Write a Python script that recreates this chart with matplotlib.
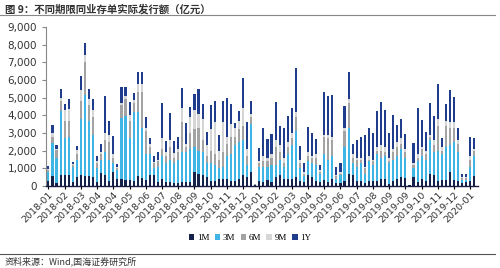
import numpy as np
import matplotlib
matplotlib.use("Agg")
from matplotlib import pyplot as plt
from matplotlib.ticker import FuncFormatter

plt.rcParams['font.family'] = ['Noto Sans CJK SC', 'DejaVu Sans']

# 发行额（亿元），每周一根柱
m1 = [300, 550, 150, 650, 600, 600, 200, 500, 650, 550, 550, 500, 200, 750, 650, 300, 800, 400,
      400, 350, 350, 300, 550, 450, 350, 600, 600, 200, 400, 200, 250, 150, 150, 200, 200, 200,
      800, 700, 600, 500, 300, 300, 400, 400, 400, 300, 300, 400, 600, 500, 800, 60, 300, 250,
      350, 250, 500, 600, 400, 400, 400, 500, 300, 250, 600, 500, 300, 200, 350, 250, 400, 150,
      150, 300, 700, 600, 300, 300, 150, 300, 300, 300, 400, 400, 100, 300, 400, 500, 450, 40,
      500, 250, 400, 300, 700, 650, 300, 350, 350, 800, 350, 300, 150, 200, 300, 550]
m3 = [500, 1870, 1450, 3600, 2100, 2150, 850, 950, 3150, 4600, 3150, 2400, 800, 700, 1250, 1200,
      500, 500, 3450, 3600, 2350, 3900, 3650, 2850, 1450, 1200, 400, 900, 1300, 1100, 1250, 1150,
      1350, 1700, 1750, 1900, 1400, 1300, 1300, 800, 1000, 900, 600, 700, 1300, 1500, 2000, 2100,
      2000, 700, 2700, 20, 800, 850, 750, 950, 700, 900, 700, 1400, 1900, 2600, 700, 300, 800,
      800, 900, 500, 1450, 1250, 1300, 250, 450, 1900, 2600, 700, 800, 1000, 550, 1100, 900, 1500,
      1200, 1300, 1200, 1200, 1300, 1600, 1150, 10, 500, 1150, 1300, 1200, 1900, 1250, 1700, 1450,
      1850, 1500, 2150, 1600, 200, 150, 800, 1150]
m6 = [100, 380, 450, 550, 1000, 950, 150, 350, 1000, 1850, 900, 1000, 300, 350, 700, 1000, 300,
      100, 750, 950, 1000, 500, 1100, 2000, 1300, 400, 300, 300, 400, 400, 700, 300, 400, 1700,
      250, 900, 1000, 1300, 700, 400, 700, 600, 500, 800, 700, 1000, 500, 700, 800, 500, 400, 10,
      200, 300, 300, 400, 1000, 400, 200, 400, 400, 800, 300, 150, 300, 300, 400, 100, 1000, 1200,
      900, 150, 100, 900, 1400, 300, 400, 200, 300, 100, 200, 200, 400, 200, 100, 400, 500, 300,
      300, 0, 200, 200, 400, 300, 200, 400, 1400, 200, 1200, 1000, 800, 500, 100, 100, 400, 300]
m9 = [50, 200, 50, 200, 600, 650, 50, 250, 650, 400, 300, 400, 100, 150, 400, 400, 200, 50, 100,
      200, 300, 150, 500, 500, 200, 200, 50, 100, 600, 200, 400, 250, 200, 800, 200, 900, 1100,
      800, 1200, 600, 1200, 1800, 500, 1700, 400, 700, 500, 500, 1000, 400, 200, 0, 100, 300, 200,
      200, 400, 400, 300, 300, 300, 300, 200, 100, 200, 100, 200, 100, 100, 200, 200, 100, 100,
      200, 200, 200, 100, 100, 100, 200, 100, 200, 300, 300, 200, 200, 300, 300, 200, 0, 100, 200,
      100, 200, 100, 300, 400, 200, 300, 300, 300, 200, 50, 50, 200, 100]
y1 = [180, 460, 230, 480, 350, 580, 130, 220, 790, 690, 580, 630, 300, 430, 2100, 800, 1040, 200,
      930, 530, 730, 400, 650, 650, 600, 340, 350, 400, 1990, 670, 1520, 720, 660, 1140, 1150, 560,
      900, 1380, 850, 780, 1390, 1220, 890, 1240, 2170, 1130, 250, 550, 1700, 1510, 740, 10, 740,
      1570, 1070, 1150, 2160, 1100, 1710, 1470, 1400, 2510, 790, 490, 1430, 1320, 870, 270, 2430,
      2200, 2360, 450, 490, 1240, 1530, 580, 1010, 1200, 1790, 1610, 1490, 2070, 2440, 2110, 1390,
      1930, 960, 1120, 830, 10, 1140, 2600, 1540, 1040, 1790, 1370, 1980, 520, 950, 1840, 1430, 670,
      180, 180, 1100, 600]

tick_labels = ["2018-01", "2018-02", "2018-03", "2018-04", "2018-04", "2018-05", "2018-06",
               "2018-07", "2018-08", "2018-09", "2018-10", "2018-11", "2018-12", "2019-01",
               "2019-02", "2019-03", "2019-04", "2019-05", "2019-06", "2019-07", "2019-08",
               "2019-09", "2019-09", "2019-10", "2019-11", "2019-12", "2020-01"]

series = [("1M", m1, "#15234a"), ("3M", m3, "#3fb5e5"), ("6M", m6, "#a3a3a3"),
          ("9M", m9, "#d6d6d6"), ("1Y", y1, "#1f3d8c")]


def main() -> None:
    fig = plt.figure(figsize=(5.0, 2.68), dpi=100)
    ax = fig.add_axes([0.092, 0.306, 0.864, 0.593])

    x = np.arange(len(m1))
    bottom = np.zeros(len(m1))
    for name, vals, col in series:
        ax.bar(x, vals, width=0.52, bottom=bottom, color=col, label=name, linewidth=0)
        bottom += np.array(vals)

    ax.set_xlim(-0.6, len(m1) - 0.1)
    ax.set_ylim(0, 9000)
    ax.set_yticks(np.arange(0, 9001, 1000))
    ax.yaxis.set_major_formatter(FuncFormatter(lambda v, p: f"{int(v):,}"))
    ax.tick_params(axis="y", labelsize=7.5, length=3, color="#888888", labelcolor="#333333")
    ax.set_xticks(x[::4])
    ax.set_xticklabels(tick_labels, rotation=45, ha="right", rotation_mode="anchor",
                       fontsize=6.8, color="#333333", family="DejaVu Sans")
    ax.tick_params(axis="x", length=2, pad=1)
    for lab in ax.get_yticklabels():
        lab.set_family("DejaVu Sans")

    for s in ("top", "right"):
        ax.spines[s].set_visible(False)
    ax.spines["left"].set_color("#888888")
    ax.spines["left"].set_linewidth(0.8)
    ax.spines["bottom"].set_color("#1a1a40")
    ax.spines["bottom"].set_linewidth(1.0)

    fig.legend(loc="center", bbox_to_anchor=(0.5, 0.112), ncol=5, frameon=False,
               handlelength=0.6, handleheight=0.6, handletextpad=0.3,
               columnspacing=0.6, prop={"family": "Liberation Serif", "size": 6.5})

    # 标题与来源
    fig.text(0.01, 0.985, "图 9：不同期限同业存单实际发行额（亿元）", fontsize=7.5,
             fontweight="bold", color="#333333", va="top", ha="left")
    fig.add_artist(plt.Line2D([0.0, 0.99], [0.945, 0.945], color="#888888", linewidth=0.8))
    fig.add_artist(plt.Line2D([0.0, 0.99], [0.052, 0.052], color="#555555", linewidth=0.8))
    fig.text(0.01, 0.025, "资料来源：Wind,国海证券研究所", fontsize=6.5, color="#333333",
             va="center", ha="left")

    fig.savefig("out.png", dpi=100)


if __name__ == "__main__":
    main()
